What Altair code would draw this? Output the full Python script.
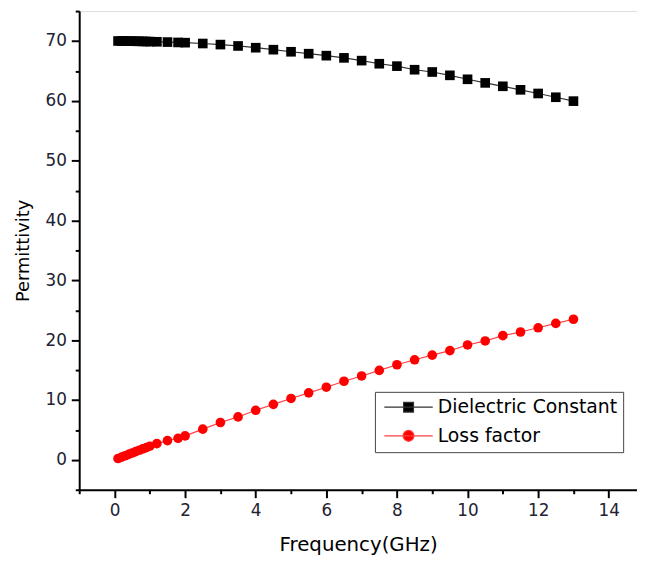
import altair as alt
import pandas as pd

freq = [0.1, 0.2, 0.3, 0.4, 0.5, 0.6, 0.7, 0.8, 0.9, 1.0, 1.2, 1.5, 1.8, 2.0,
        2.5, 3.0, 3.5, 4.0, 4.5, 5.0, 5.5, 6.0, 6.5, 7.0, 7.5, 8.0, 8.5, 9.0,
        9.5, 10.0, 10.5, 11.0, 11.5, 12.0, 12.5, 13.0]

dielectric = [70.0, 70.0, 70.0, 69.98, 69.97, 69.96, 69.95, 69.93, 69.92, 69.9,
              69.87, 69.82, 69.76, 69.72, 69.58, 69.4, 69.17, 68.88, 68.55, 68.2,
              67.88, 67.55, 67.18, 66.72, 66.2, 65.8, 65.2, 64.82, 64.26, 63.6,
              63.0, 62.43, 61.84, 61.23, 60.6, 59.95]

loss = [0.22, 0.45, 0.68, 0.91, 1.14, 1.37, 1.6, 1.83, 2.05, 2.28,
        2.72, 3.2, 3.6, 4.0, 5.13, 6.24, 7.17, 8.28, 9.27, 10.26,
        11.2, 12.14, 13.13, 14.02, 14.95, 15.89, 16.72, 17.5, 18.26, 19.2,
        19.87, 20.75, 21.36, 22.07, 22.8, 23.5]

series_names = ["Dielectric Constant", "Loss factor"]
marker_colors = ["#000000", "#ff0000"]
line_colors = ["#333333", "#ff4040"]
x_ticks = list(range(-1, 15))
y_ticks = list(range(-5, 80, 5))

df = pd.DataFrame({
    "freq": freq + freq,
    "value": dielectric + loss,
    "series": [series_names[0]] * len(freq) + [series_names[1]] * len(loss),
})

FONT = "DejaVu Sans"
LABEL_COLOR = "#222233"

x_enc = alt.X(
    "freq:Q",
    scale=alt.Scale(domain=[-1, 14.8], nice=False, zero=False),
    axis=alt.Axis(
        title="Frequency(GHz)",
        values=x_ticks,
        labelExpr="datum.value % 2 !== 0 ? '' : datum.label",
        tickSize={"condition": {"test": "datum.value % 2 !== 0", "value": 4}, "value": 8},
        tickWidth=2,
        tickColor="black",
        domainColor="black",
        domainWidth=2,
        grid=False,
        labelFont=FONT,
        labelFontSize=17,
        labelColor=LABEL_COLOR,
        labelPadding=5,
        labelFlush=False,
        labelOverlap=False,
        titleFont=FONT,
        titleFontSize=20,
        titleFontWeight="normal",
        titleColor="black",
        titlePadding=16,
    ),
)

y_enc = alt.Y(
    "value:Q",
    scale=alt.Scale(domain=[-5, 75], nice=False, zero=False),
    axis=alt.Axis(
        title="Permittivity",
        values=y_ticks,
        labelExpr="(datum.value % 10 !== 0 || datum.value < 0) ? '' : datum.label",
        tickSize={"condition": {"test": "datum.value % 10 !== 0", "value": 4}, "value": 8},
        tickWidth=2,
        tickColor="black",
        domainColor="black",
        domainWidth=2,
        grid=False,
        labelFont=FONT,
        labelFontSize=17,
        labelColor=LABEL_COLOR,
        labelPadding=5,
        labelFlush=False,
        labelOverlap=False,
        titleFont=FONT,
        titleFontSize=18,
        titleFontWeight="normal",
        titleColor="black",
        titlePadding=13,
    ),
)

# legend symbols: a short line with the marker in its middle
sq_path = "M-4.9,0H4.9M-1,-1H1V1H-1Z"
ci_path = "M-4.9,0H4.9M1.1,0A1.1,1.1,0,1,1,-1.1,0A1.1,1.1,0,1,1,1.1,0Z"

legend = alt.Legend(
    title=None,
    orient="none",
    legendX=299,
    legendY=385,
    padding=6,
    rowPadding=9,
    strokeColor="#444444",
    fillColor="white",
    labelFont=FONT,
    labelFontSize=19,
    labelColor="black",
    labelLimit=0,
    labelOffset=20,
    symbolOffset=18.5,
    symbolSize=100,
    symbolStrokeWidth=1.2,
    symbolOpacity=1,
)

lines = alt.Chart(df).mark_line(strokeWidth=1.2).encode(
    x=x_enc,
    y=y_enc,
    stroke=alt.Stroke("series:N", scale=alt.Scale(domain=series_names, range=line_colors), legend=None),
    detail="series:N",
)

points = alt.Chart(df).mark_point(filled=True, opacity=1, size=95).encode(
    x=x_enc,
    y=y_enc,
    fill=alt.Fill("series:N", scale=alt.Scale(domain=series_names, range=marker_colors), legend=None),
    shape=alt.Shape("series:N", scale=alt.Scale(domain=series_names, range=["square", "circle"]), legend=None),
)

legend_layer = alt.Chart(df).transform_filter("datum.freq < -100").mark_point(
    filled=True, strokeWidth=1.2
).encode(
    x=x_enc,
    y=y_enc,
    fill=alt.Fill("series:N", scale=alt.Scale(domain=series_names, range=marker_colors), legend=legend),
    stroke=alt.Stroke("series:N", scale=alt.Scale(domain=series_names, range=line_colors), legend=legend),
    shape=alt.Shape("series:N", scale=alt.Scale(domain=series_names, range=[sq_path, ci_path]), legend=legend),
)

chart = alt.layer(lines, points, legend_layer).resolve_scale(
    shape="independent", fill="independent", stroke="independent"
).properties(
    width=564,
    height=484,
    autosize=alt.AutoSizeParams(type="none"),
    padding={"left": 72, "top": 0, "right": 0, "bottom": 76},
).configure_view(stroke=None).configure(background="white")

chart.save("out.html", embed_options={"renderer": "svg", "actions": False})
